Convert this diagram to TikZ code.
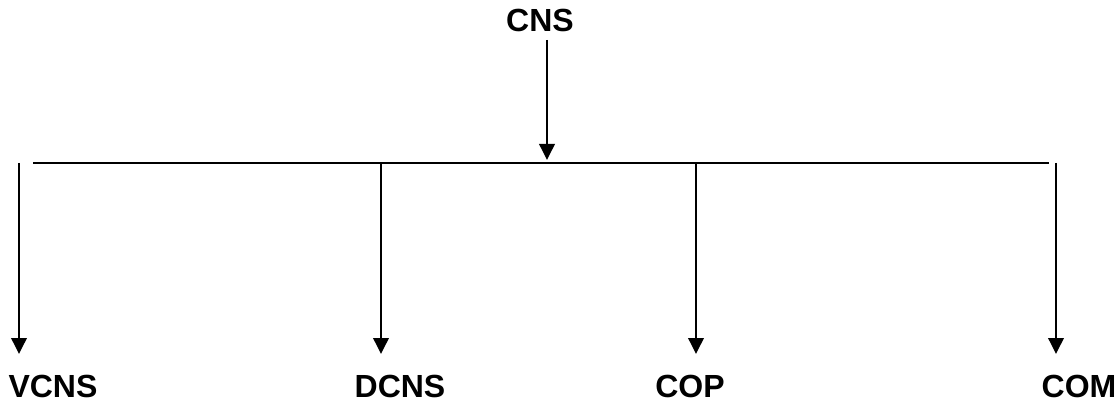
\documentclass[tikz,border=0pt]{standalone}
\usepackage{fontspec}
\setmainfont{Liberation Sans}
\usetikzlibrary{arrows.meta}

\tikzset{label text/.style={font=\fontsize{24}{28}\selectfont\bfseries, inner sep=0pt, anchor=base}}

\begin{document}
\begin{tikzpicture}[x=0.75pt, y=-0.75pt, line width=1.9pt,
    down arrow/.style={-{Triangle[length=12pt, width=11.5pt]}}]
			\useasboundingbox (0,0) rectangle (1118,406);
			
			% Define labels
			\node[label text] (cns) at (540,32) {CNS};
			\node[label text] (vcns) at (53,397) {VCNS};
			\node[label text] (dcns) at (400,397) {DCNS};
			\node[label text] (cop) at (690,397) {COP};
			\node[label text] (com) at (1079,397) {COM};
			
			% Define ends of the bar and arrows
			\coordinate (top) at (547,40);
			\coordinate (mid) at (547,160);
			\coordinate (barL) at (33,163);
			\coordinate (barR) at (1049,163);
			\coordinate (v1) at (19,163);
			\coordinate (v2) at (381,163);
			\coordinate (v3) at (696,163);
			\coordinate (v4) at (1056,163);
			\coordinate (e1) at (19,354);
			\coordinate (e2) at (381,354);
			\coordinate (e3) at (696,354);
			\coordinate (e4) at (1056,354);
			
			% Arrow from CNS onto the bar
			\draw[down arrow] (top) to (mid);
			
			% Horizontal bar
			\draw (barL) to (barR);
			
			% Arrows down to the four parts
			\draw[down arrow] (v1) to (e1);
			\draw[down arrow] (v2) to (e2);
			\draw[down arrow] (v3) to (e3);
			\draw[down arrow] (v4) to (e4);
		\end{tikzpicture}
\end{document}
